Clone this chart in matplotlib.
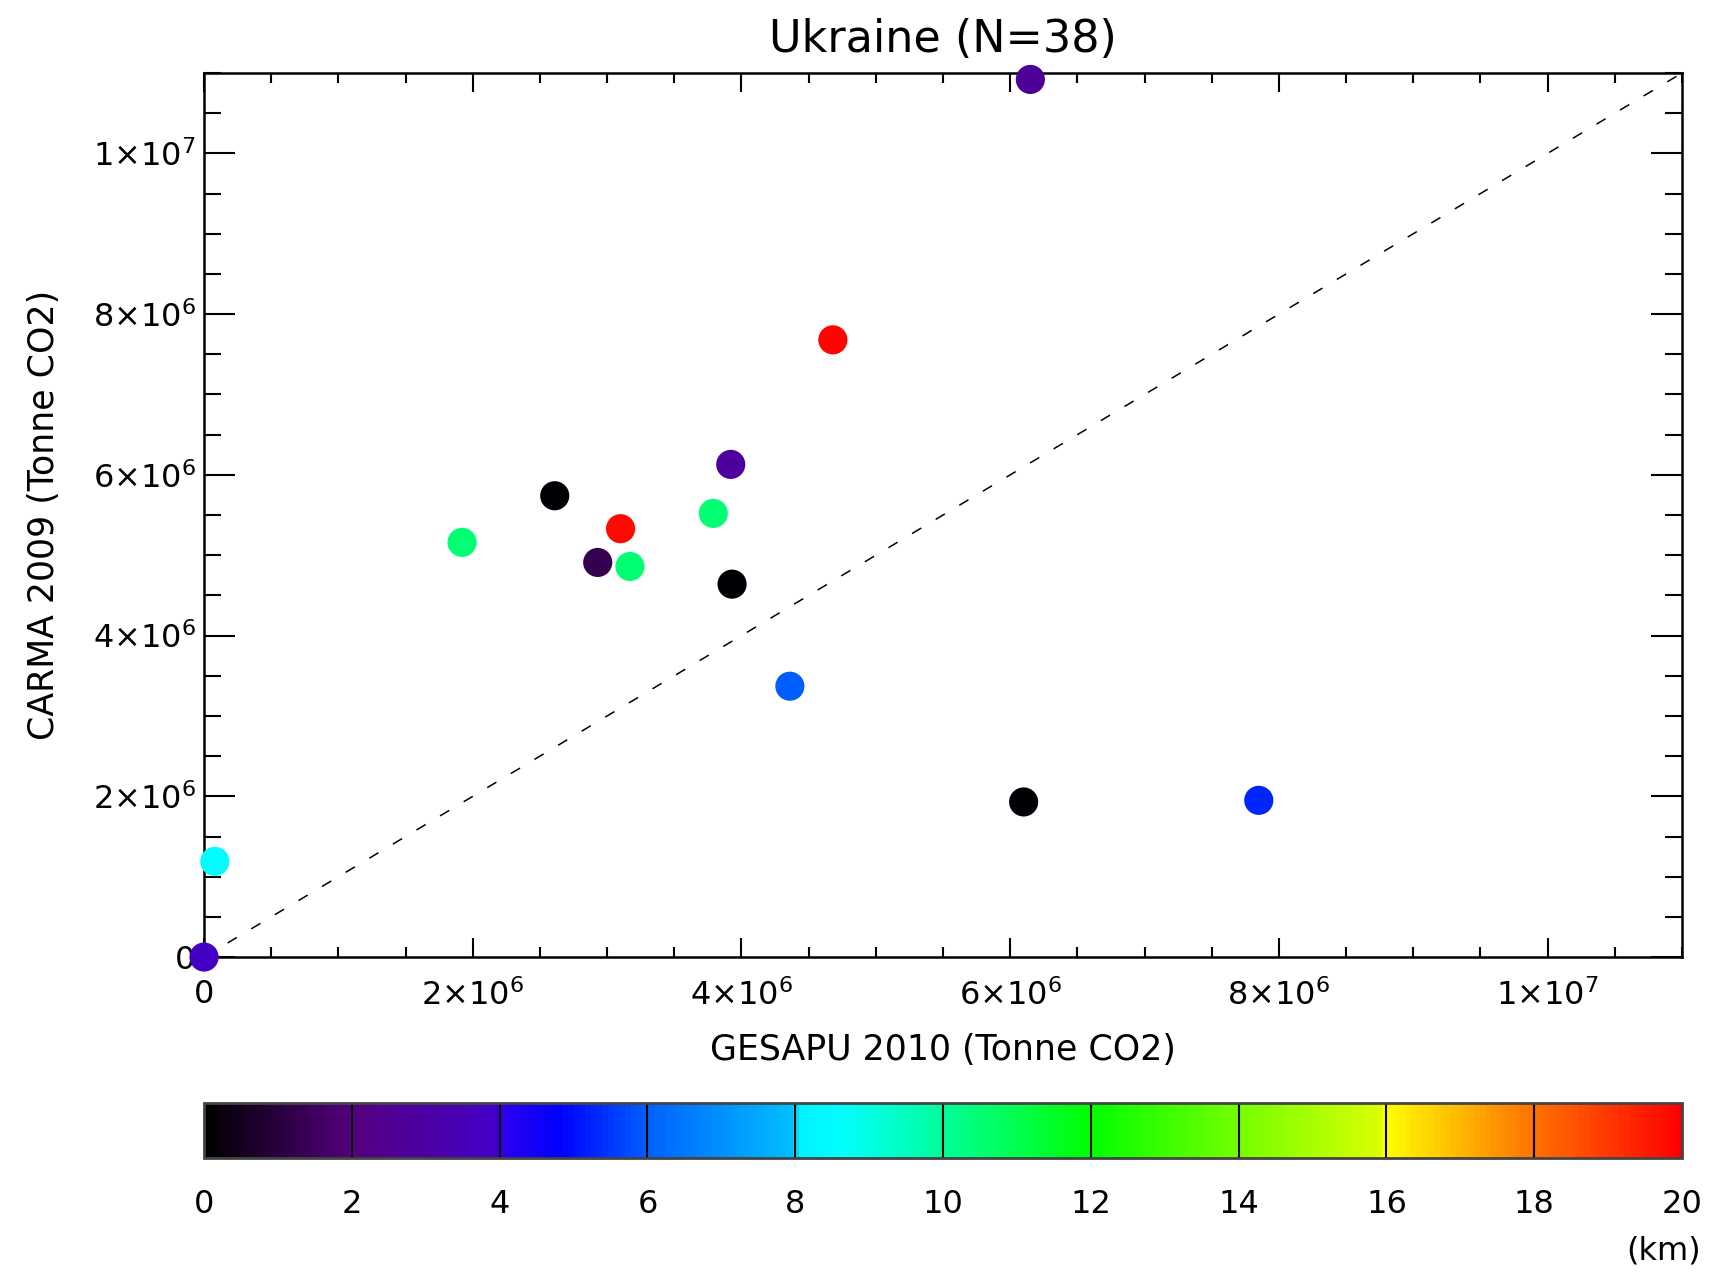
import matplotlib
matplotlib.use("Agg")
import matplotlib.pyplot as plt
from matplotlib.colors import LinearSegmentedColormap

plt.rcParams['font.family'] = ['DejaVu Sans']
plt.rcParams['mathtext.fontset'] = 'dejavusans'

# plant emissions: GESAPU 2010 vs CARMA 2009, coloured by distance (km)
gesapu = [6.15e6, 4.68e6, 3.92e6, 2.61e6, 3.79e6, 3.10e6, 1.92e6, 2.93e6,
          3.17e6, 3.93e6, 4.36e6, 6.10e6, 7.85e6, 0.08e6, 0.0]
carma = [10.92e6, 7.68e6, 6.13e6, 5.74e6, 5.52e6, 5.33e6, 5.16e6, 4.91e6,
         4.86e6, 4.64e6, 3.37e6, 1.93e6, 1.95e6, 1.19e6, 0.0]
dist_km = [2.6, 19.9, 2.8, 0.1, 10.5, 19.8, 10.5, 1.3,
           10.5, 0.1, 6.0, 0.1, 5.3, 8.5, 3.9]

axis_ticks = [0, 2e6, 4e6, 6e6, 8e6, 1e7]
axis_ticklabels = ['0', '2×10$^{6}$', '4×10$^{6}$', '6×10$^{6}$', '8×10$^{6}$', '1×10$^{7}$']
cbar_ticks = [0, 2, 4, 6, 8, 10, 12, 14, 16, 18, 20]

# IDL-ish rainbow with black at the bottom
cmap_pts = [
    (0.0, (0, 0, 0)), (2.0, (0.33, 0, 0.5)), (3.9, (0.27, 0, 0.78)),
    (4.1, (0.15, 0, 0.95)), (4.8, (0, 0, 1)), (6.0, (0, 0.38, 1)),
    (7.95, (0, 0.75, 1)), (8.05, (0, 0.95, 1)), (8.6, (0, 1, 1)),
    (10.0, (0, 1, 0.6)), (12.0, (0, 1, 0)), (14.0, (0.45, 1, 0)),
    (15.95, (0.85, 1, 0)), (16.0, (1, 1, 0)), (18.0, (1, 0.45, 0)),
    (20.0, (1, 0, 0)),
]
cmap = LinearSegmentedColormap.from_list('idl_rainbow', [(v / 20.0, c) for v, c in cmap_pts])

fig = plt.figure(figsize=(17.09, 12.72), dpi=100)
ax = fig.add_axes([0.1194, 0.2476, 0.8648, 0.695])

ax.axline((0, 0), slope=1, color='black', lw=1.1, dashes=(7, 11), zorder=2)
sc = ax.scatter(gesapu, carma, c=dist_km, cmap=cmap, vmin=0, vmax=20,
                s=440, edgecolors='none', clip_on=False, zorder=3)

ax.set_xlim(0, 1.1e7)
ax.set_ylim(0, 1.1e7)
ax.set_xticks(axis_ticks)
ax.set_xticklabels(axis_ticklabels)
ax.set_yticks(axis_ticks)
ax.set_yticklabels(axis_ticklabels)
ax.set_xticks([i * 5e5 for i in range(23)], minor=True)
ax.set_yticks([i * 5e5 for i in range(23)], minor=True)

for s in ax.spines.values():
    s.set_linewidth(1.8)
ax.tick_params(which='both', direction='in', top=True, right=True, width=1.5, labelsize=23)
ax.tick_params(axis='x', which='major', length=14, pad=16)
ax.tick_params(axis='x', which='minor', length=7)
ax.tick_params(axis='y', which='major', length=22, pad=6)
ax.tick_params(axis='y', which='minor', length=12)

ax.set_title('Ukraine (N=38)', fontsize=32, pad=15)
ax.set_xlabel('GESAPU 2010 (Tonne CO2)', fontsize=25)
ax.set_ylabel('CARMA 2009 (Tonne CO2)', fontsize=25)
ax.xaxis.label.set_va('center')
ax.yaxis.label.set_va('center')
ax.xaxis.set_label_coords(0.5, -0.105)
ax.yaxis.set_label_coords(-0.108, 0.5)

cax = fig.add_axes([0.1194, 0.0896, 0.8648, 0.0432])
cb = fig.colorbar(sc, cax=cax, orientation='horizontal', ticks=cbar_ticks)
cb.outline.set_linewidth(2)
cb.outline.set_edgecolor('#444444')
cax.tick_params(length=0, labelsize=23, pad=22)
cax.vlines(cbar_ticks[1:-1], 0, 1, transform=cax.get_xaxis_transform(), colors='black', lw=1.5)
fig.text(0.995, 1 - 1251 / 1272, '(km)', ha='right', va='center', fontsize=23)

fig.savefig('out.png', dpi=100)
